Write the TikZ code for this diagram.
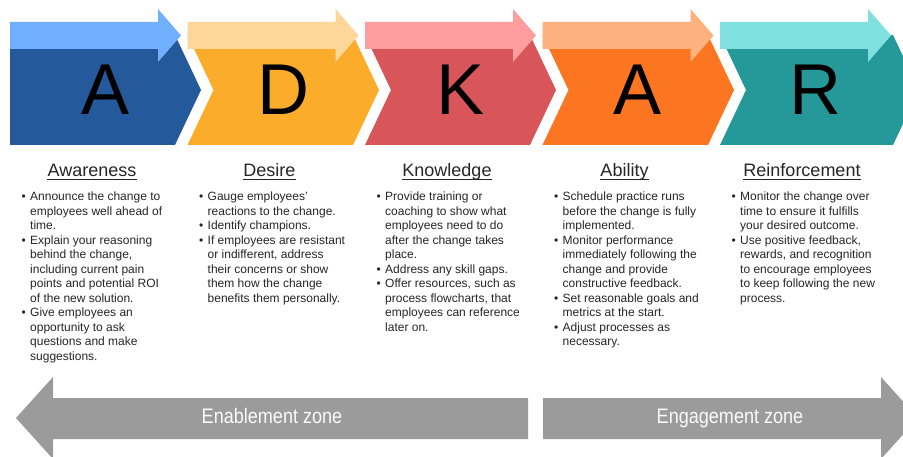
\documentclass[tikz,border=0pt]{standalone}
\usepackage{fontspec}
\setmainfont{Liberation Sans}
\newfontfamily\zonefont[FakeStretch=0.86]{Liberation Sans}

% stage colours: dark body / light arrow
\definecolor{awDark}{HTML}{245A9B}\definecolor{awLight}{HTML}{70AEFE}
\definecolor{deDark}{HTML}{FCAC2B}\definecolor{deLight}{HTML}{FED699}
\definecolor{knDark}{HTML}{D8555A}\definecolor{knLight}{HTML}{FD9D9D}
\definecolor{abDark}{HTML}{FC7521}\definecolor{abLight}{HTML}{FDB17E}
\definecolor{reDark}{HTML}{25999A}\definecolor{reLight}{HTML}{80DFDF}
\definecolor{zoneGray}{HTML}{9B9B9B}
\definecolor{textGray}{HTML}{262626}

\newcommand\bl{\makebox[8.5pt][l]{\textbullet}}
\newcommand\ind{\hspace*{8.5pt}}

\begin{document}
\begin{tikzpicture}[x=1pt,y=-1pt,
  letter/.style={anchor=base,inner sep=0,font=\fontsize{72}{72}\selectfont},
  heading/.style={anchor=base,inner sep=0,text=textGray,font=\fontsize{18}{18}\selectfont},
  bullets/.style={anchor=north west,inner sep=0,align=left,text=textGray,
                  font=\fontsize{12}{14.5}\selectfont},
  zone/.style={fill=zoneGray},
  zonetext/.style={anchor=base,inner sep=0,text=white!96!gray,
                   font=\zonefont\fontsize{21}{21}\selectfont}]

\useasboundingbox[fill=white] (0,0) rectangle (903,457);
\clip (0,0) rectangle (903,457);

% chevron bodies: left / right / notch depth / colour
\foreach \l/\r/\n/\dk in {10/175/0/awDark, 187.5/353/26/deDark, 365/530/26/knDark,
                          542.5/708/26/abDark, 720/893/26/reDark}{
  \fill[\dk] (\l,35) -- (\r,35) -- (\r+26,90) -- (\r,145) -- (\l,145) -- (\l+\n,90) -- cycle;
}

% light progress arrows on top of each chevron
\foreach \l/\lt in {10/awLight, 187.5/deLight, 365/knLight, 542.5/abLight, 720/reLight}{
  \fill[\lt] (\l,22) -- (\l+148,22) -- (\l+148,9) -- (\l+171,35.5)
             -- (\l+148,62) -- (\l+148,49) -- (\l,49) -- cycle;
}

% big letters
\node[letter] (letA) at (105.5,115) {A};
\node[letter] (letD) at (283,115) {D};
\node[letter] (letK) at (460.5,115) {K};
\node[letter] (letA2) at (638,115) {A};
\node[letter] (letR) at (815.5,115) {R};

% headings with underline
\foreach \x/\nm/\t in {92/aw/Awareness, 269.5/de/Desire, 447/kn/Knowledge,
                       624.5/ab/Ability, 802/re/Reinforcement}{
  \node[heading] (h\nm) at (\x,177) {\t};
  \draw[textGray,line width=1.2pt] ([yshift=-2.6pt]h\nm.base west) -- ([yshift=-2.6pt]h\nm.base east);
}

% bullet lists
\node[bullets] (taw) at (21.5,192) {%
\bl Announce the change to\\
\ind employees well ahead of\\
\ind time.\\
\bl Explain your reasoning\\
\ind behind the change,\\
\ind including current pain\\
\ind points and potential ROI\\
\ind of the new solution.\\
\bl Give employees an\\
\ind opportunity to ask\\
\ind questions and make\\
\ind suggestions.};

\node[bullets] (tde) at (199,192) {%
\bl Gauge employees'\\
\ind reactions to the change.\\
\bl Identify champions.\\
\bl If employees are resistant\\
\ind or indifferent, address\\
\ind their concerns or show\\
\ind them how the change\\
\ind benefits them personally.};

\node[bullets] (tkn) at (376.5,192) {%
\bl Provide training or\\
\ind coaching to show what\\
\ind employees need to do\\
\ind after the change takes\\
\ind place.\\
\bl Address any skill gaps.\\
\bl Offer resources, such as\\
\ind process flowcharts, that\\
\ind employees can reference\\
\ind later on.};

\node[bullets] (tab) at (554,192) {%
\bl Schedule practice runs\\
\ind before the change is fully\\
\ind implemented.\\
\bl Monitor performance\\
\ind immediately following the\\
\ind change and provide\\
\ind constructive feedback.\\
\bl Set reasonable goals and\\
\ind metrics at the start.\\
\bl Adjust processes as\\
\ind necessary.};

\node[bullets] (tre) at (731.5,192) {%
\bl Monitor the change over\\
\ind time to ensure it fulfills\\
\ind your desired outcome.\\
\bl Use positive feedback,\\
\ind rewards, and recognition\\
\ind to encourage employees\\
\ind to keep following the new\\
\ind process.};

% zone arrows
\fill[zone] (16,418) -- (53,377) -- (53,398) -- (528,398) -- (528,439)
            -- (53,439) -- (53,459) -- cycle;
\fill[zone] (543,398) -- (881,398) -- (881,377) -- (918,418) -- (881,459)
            -- (881,439) -- (543,439) -- cycle;
\node[zonetext] (zen) at (272,423) {Enablement zone};
\node[zonetext] (zeg) at (730,423) {Engagement zone};

\end{tikzpicture}
\end{document}
